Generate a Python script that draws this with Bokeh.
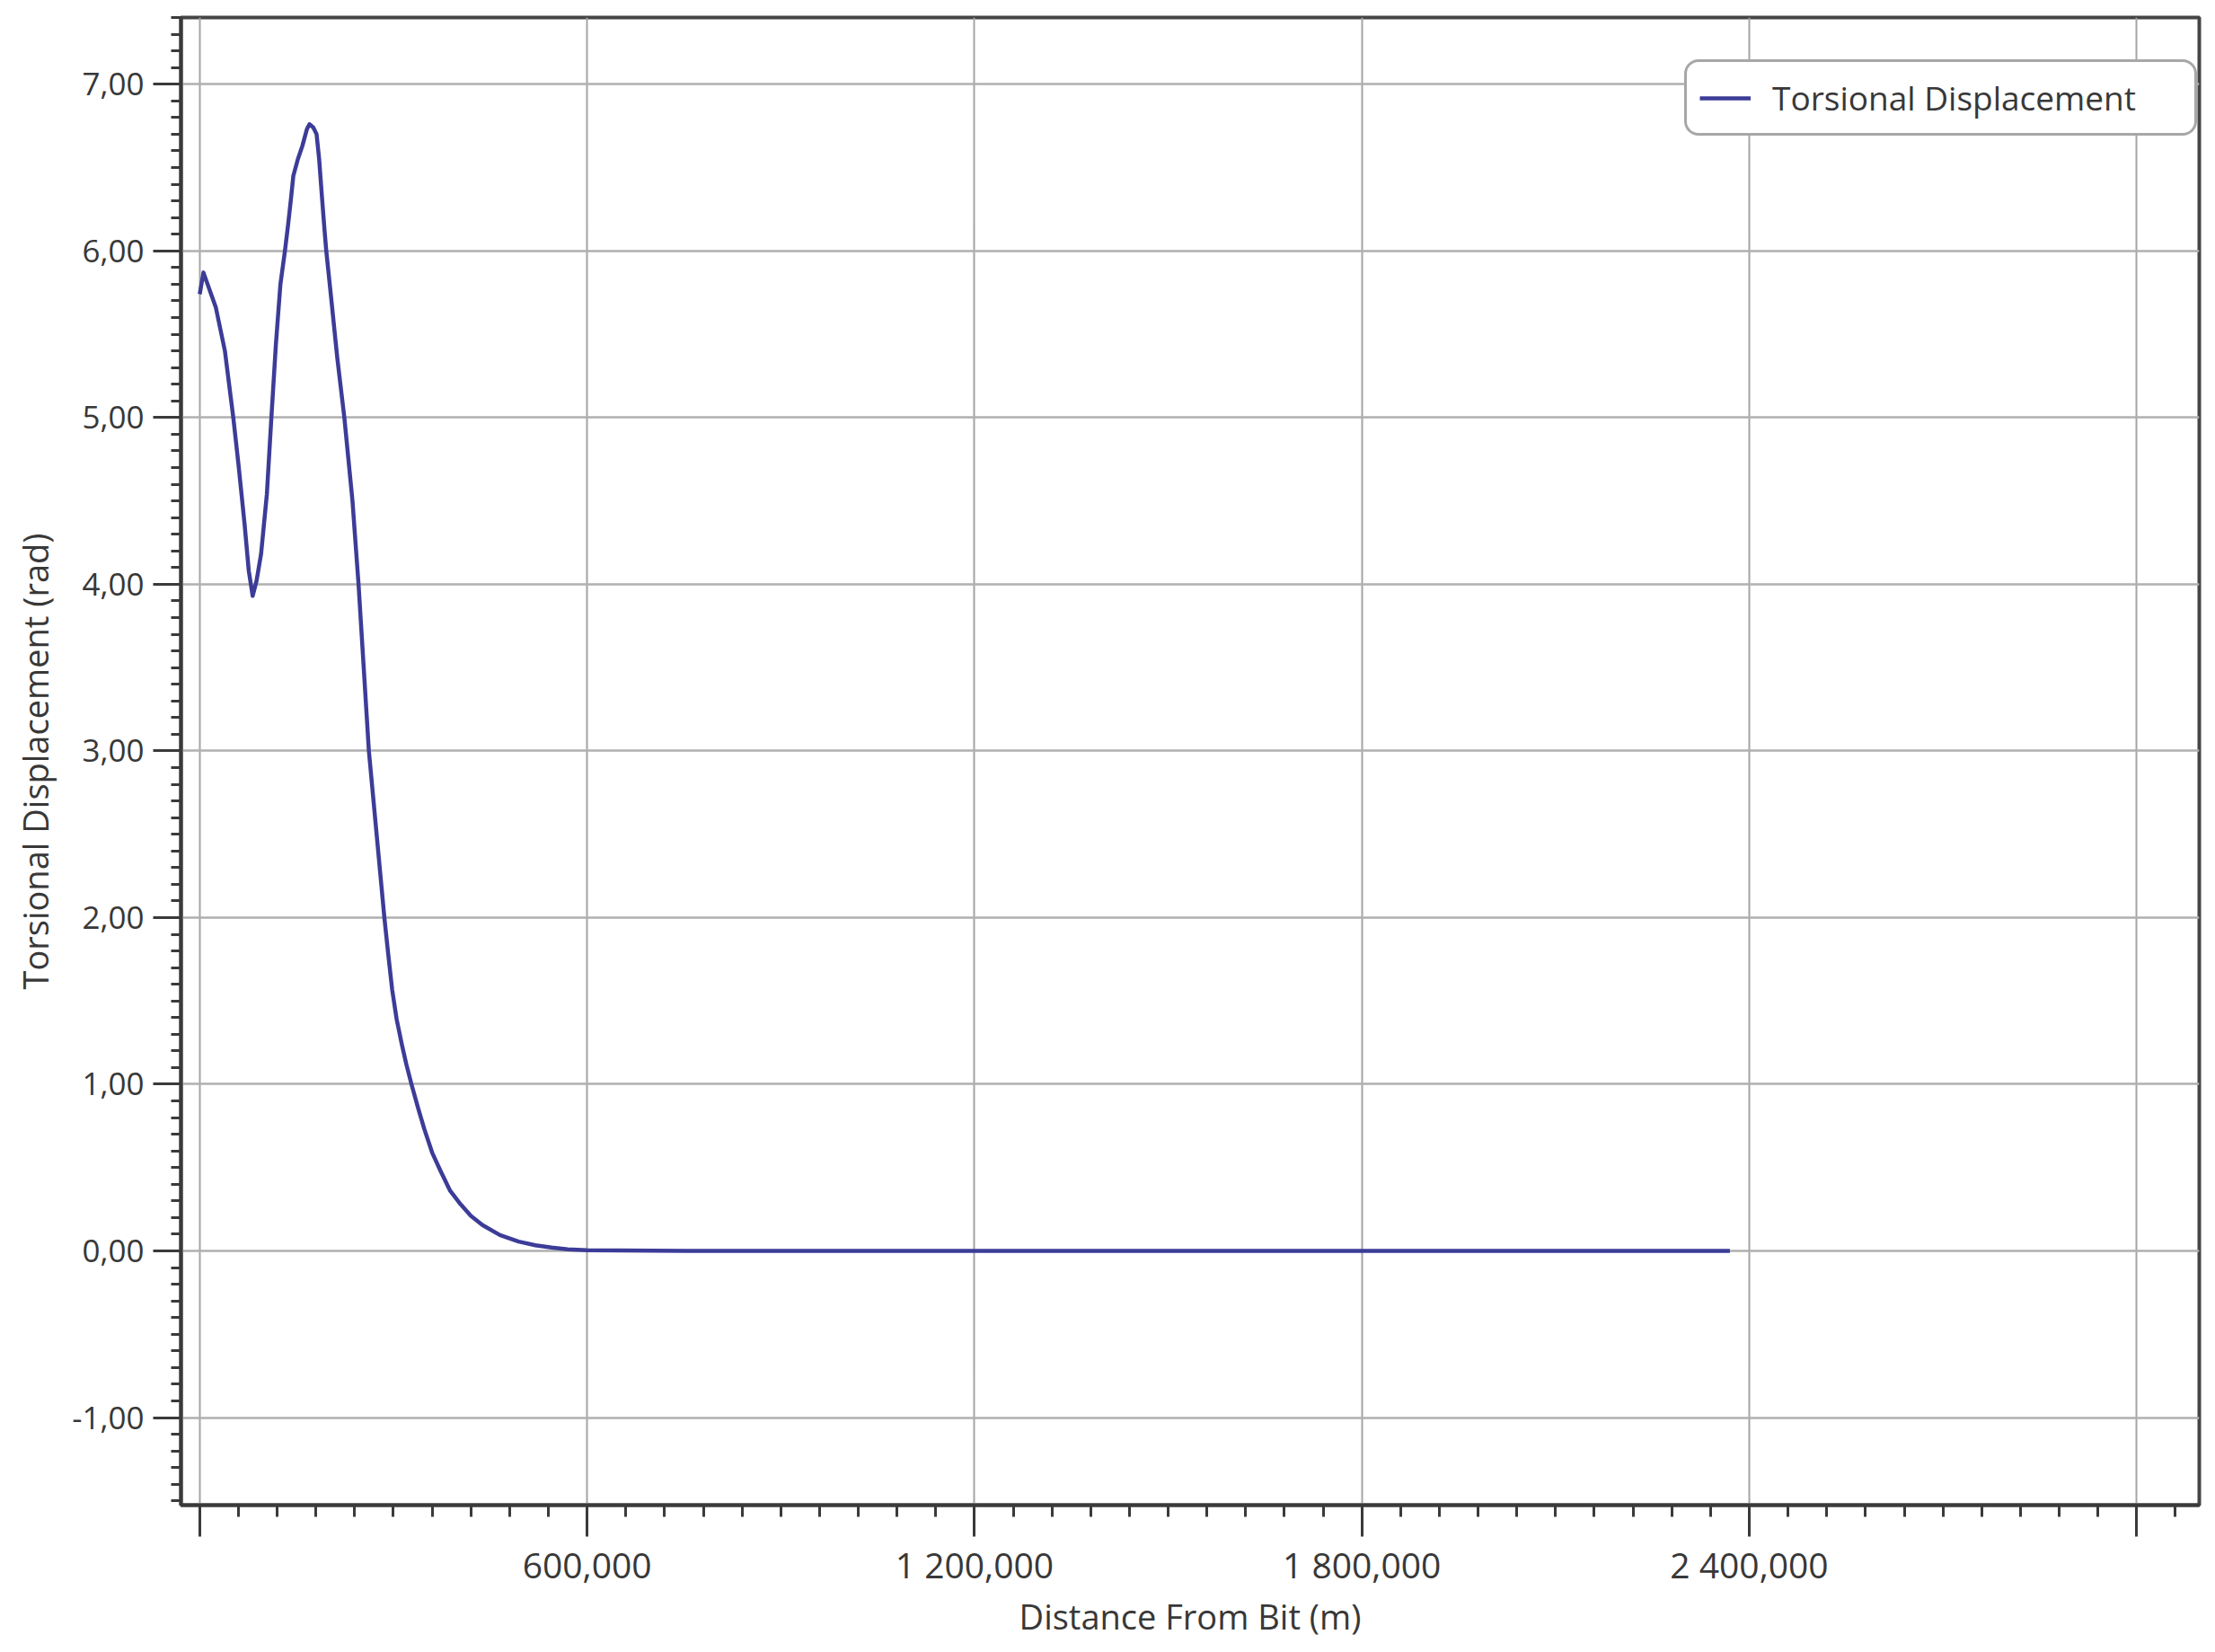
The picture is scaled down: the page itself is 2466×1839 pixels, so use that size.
import numpy as np
from bokeh.plotting import figure
from bokeh.models import Range1d, FixedTicker, Legend
from bokeh.embed import file_html
from bokeh.resources import INLINE

# ---------------- data ----------------
distance_m = [0, 5.8, 25, 39, 52, 60, 69.5, 76, 82, 88, 95, 104, 111, 118, 125,
              132, 137, 141, 145, 152, 159, 166, 170, 176, 181, 185, 189, 193,
              196, 203, 213, 224, 236.6, 246, 254, 262, 274, 286, 292, 298, 305,
              313, 320, 328, 338, 348, 360, 373, 388, 404, 420, 438, 465, 494,
              520, 545, 570, 600, 700, 800, 1200, 1800, 2370]
torsion_rad = [5.74, 5.87, 5.66, 5.40, 5.00, 4.72, 4.36, 4.08, 3.93, 4.02, 4.18,
               4.54, 5.00, 5.44, 5.80, 6.00, 6.16, 6.30, 6.45, 6.55, 6.63, 6.73,
               6.76, 6.74, 6.70, 6.55, 6.34, 6.14, 6.00, 5.74, 5.36, 5.00, 4.50,
               4.00, 3.50, 3.00, 2.50, 2.00, 1.78, 1.57, 1.39, 1.24, 1.12, 1.00,
               0.86, 0.73, 0.59, 0.48, 0.36, 0.28, 0.21, 0.155, 0.095, 0.056,
               0.034, 0.02, 0.01, 0.004, 0.001, 0.0, 0.0, 0.0, 0.0]

x_tick_values = [0, 600, 1200, 1800, 2400, 3000]
x_tick_labels = ["", "600,000", "1 200,000", "1 800,000", "2 400,000", ""]
y_tick_values = [-1, 0, 1, 2, 3, 4, 5, 6, 7]
y_tick_labels = ["-1,00", "0,00", "1,00", "2,00", "3,00", "4,00", "5,00", "6,00", "7,00"]

series_name = "Torsional Displacement"
x_title = "Distance From Bit (m)"
y_title = "Torsional Displacement (rad)"

# ---------------- styling ----------------
FONT = "Open Sans"
TXT = "#383838"
AXIS = "#3a3a3a"
LINE = "#3c3c98"

X0, X1 = -29, 3097
Y0, Y1 = -1.525, 7.40

p = figure(width=2460, height=1836, output_backend="svg", toolbar_location=None,
           x_range=Range1d(X0, X1), y_range=Range1d(Y0, Y1),
           min_border_left=201, min_border_right=12, min_border_top=19,
           min_border_bottom=161, background_fill_color="white",
           border_fill_color="white")

p.outline_line_color = "#454545"
p.outline_line_width = 4

p.line(distance_m, torsion_rad, line_color=LINE, line_width=4.5,
       line_join="round", legend_label=series_name)

# ticks
x_minor = [v for v in np.arange(0, 3097, 60)]
y_minor = [round(v, 2) for v in np.arange(-1.5, 7.45, 0.1)]
p.xaxis.ticker = FixedTicker(ticks=x_tick_values, minor_ticks=x_minor)
p.yaxis.ticker = FixedTicker(ticks=y_tick_values, minor_ticks=y_minor)
p.xaxis.major_label_overrides = {v: l for v, l in zip(x_tick_values, x_tick_labels)}
p.yaxis.major_label_overrides = {v: l for v, l in zip(y_tick_values, y_tick_labels)}

for ax in (p.xaxis[0], p.yaxis[0]):
    ax.axis_line_color = AXIS
    ax.axis_line_width = 4
    ax.major_tick_line_color = AXIS
    ax.major_tick_line_width = 3
    ax.minor_tick_line_color = AXIS
    ax.minor_tick_line_width = 3
    ax.major_tick_in = 0
    ax.minor_tick_in = 0
    ax.major_label_text_font = FONT
    ax.major_label_text_color = TXT
    ax.axis_label_text_font = FONT
    ax.axis_label_text_font_style = "normal"
    ax.axis_label_text_color = TXT
    ax.axis_label_text_font_size = "38px"

p.yaxis.major_tick_out = 31
p.yaxis.minor_tick_out = 11
p.yaxis.major_label_standoff = 10
p.yaxis.major_label_text_font_size = "35px"
p.yaxis.axis_label = y_title
p.yaxis.axis_label_standoff = 12

p.xaxis.major_tick_out = 35
p.xaxis.minor_tick_out = 13
p.xaxis.major_label_standoff = 4
p.xaxis.major_label_text_font_size = "39px"
p.xaxis.axis_label = x_title
p.xaxis.axis_label_standoff = 2

# grid
p.xgrid.ticker = FixedTicker(ticks=x_tick_values)
p.ygrid.ticker = FixedTicker(ticks=y_tick_values)
p.xgrid.grid_line_color = "#a4a4a4"
p.xgrid.grid_line_width = 2
p.ygrid.grid_line_color = "#b0b0b0"
p.ygrid.grid_line_width = 2.5

# legend
lg = p.legend[0]
lg.location = (1674, 1524)
lg.padding = 14
lg.margin = 0
lg.glyph_width = 57
lg.glyph_height = 40
lg.label_height = 40
lg.label_width = 456
lg.label_standoff = 24
lg.label_text_font = FONT
lg.label_text_font_size = "37px"
lg.label_text_color = TXT
lg.border_line_color = "#505050"
lg.border_line_width = 3
lg.background_fill_color = "white"
lg.background_fill_alpha = 1.0
if "border_radius" in Legend.properties():
    lg.border_radius = 16

open("out.html", "w").write(file_html(p, INLINE))
